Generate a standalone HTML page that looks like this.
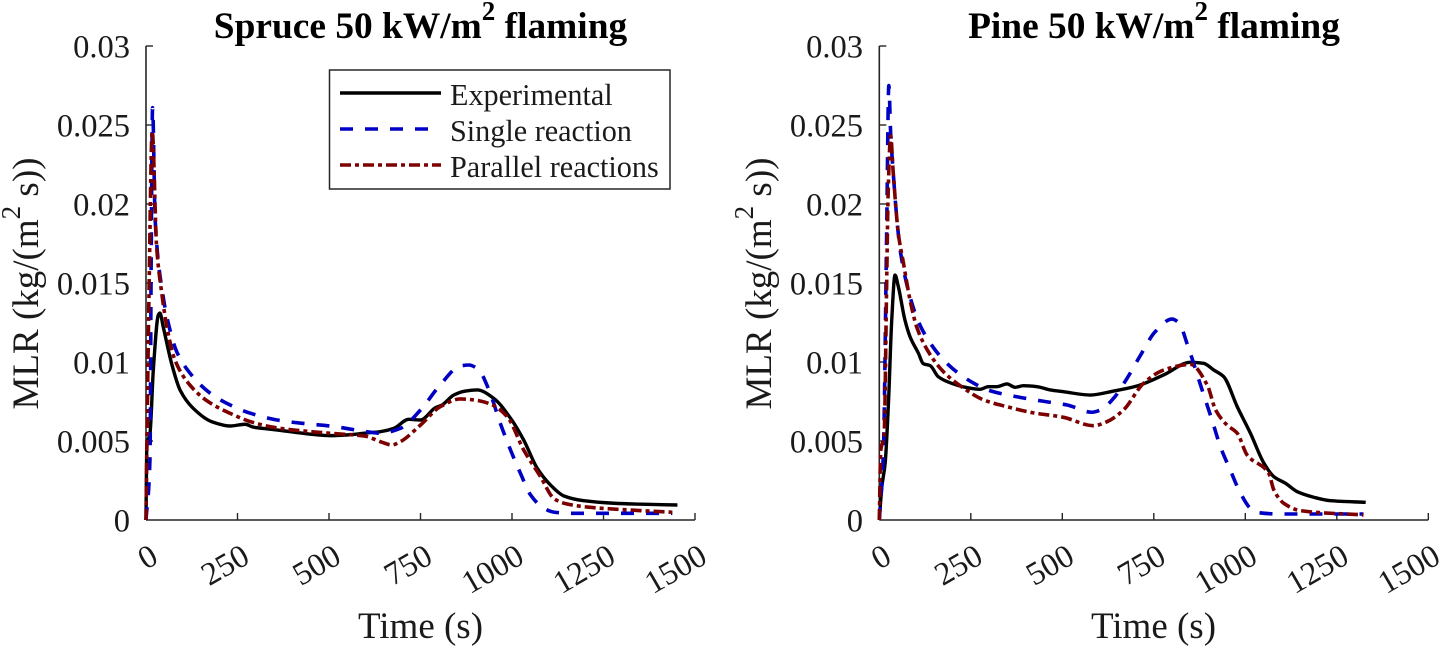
<!DOCTYPE html>
<html lang="en">
<head>
<meta charset="utf-8">
<title>MLR charts</title>
<style>
html,body{margin:0;padding:0;background:#fff;width:1439px;height:646px;overflow:hidden}
svg{display:block;font-family:"Liberation Serif",serif}
</style>
</head>
<body>
<svg id="chart" width="1439" height="646" viewBox="0 0 1439 646" xmlns="http://www.w3.org/2000/svg"></svg>
<script>
const xTicks = [0, 250, 500, 750, 1000, 1250, 1500];
const yTicks = [0, 0.005, 0.01, 0.015, 0.02, 0.025, 0.03];
const yTickLabels = ['0', '0.005', '0.01', '0.015', '0.02', '0.025', '0.03'];

const spruceExpT = [0,2,11,20,34,38,47,70,93,129,180,230,271,293,339,394,503,560,600,640,677,718,750,791,809,841,873,905,950,996,1032,1069,1105,1142,1196,1279,1370,1452];
const spruceExpV = [0,.00464,.0055,.0095,.0130,.0131,.01223,.0099,.00823,.00707,.00622,.00595,.00606,.00588,.00575,.00559,.00534,.0054,.0055,.00559,.0058,.00637,.00633,.00711,.00728,.00791,.00816,.00823,.0077,.00644,.00506,.00327,.00222,.00152,.00122,.00106,.00099,.00095];
const spruceSingleT = [0,11,14,18,25,47,61,84,120,175,230,285,358,430,503,600,640,695,750,800,859,882,909,937,968,996,1023,1051,1087,1114,1160,1279,1438];
const spruceSingleV = [0,.004,.016,.0261,.019,.01413,.01245,.01065,.0093,.00803,.00728,.00676,.00633,.00611,.00595,.0056,.00549,.0058,.00696,.00844,.00975,.00981,.0095,.00823,.00612,.00443,.00296,.00158,.00074,.0005,.00042,.00042,.00042];
const spruceParallelT = [0,2,8,17,29,43,57,79,120,170,230,294,367,503,600,640,672,695,750,804,859,896,941,987,1032,1078,1114,1142,1224,1324,1438];
const spruceParallelV = [0,.0038,.014,.0246,.0173,.01436,.01223,.01013,.00854,.00749,.00675,.00616,.0058,.00549,.0053,.00496,.00475,.00496,.00601,.00717,.00766,.0076,.00734,.00654,.00443,.00274,.00137,.00106,.00078,.00063,.00049];

const pineExpT = [0,7,16,25,34,43,52,70,84,107,120,139,161,193,239,275,298,321,349,371,394,431,467,503,576,640,704,777,850,886,914,941,978,1014,1051,1078,1110,1142,1187,1233,1329];
const pineExpV = [0,.0021,.0036,.0074,.01266,.0155,.01477,.01266,.0116,.01055,.0099,.00977,.00907,.00869,.00838,.00827,.00844,.00844,.00861,.0084,.0085,.00844,.00823,.00812,.00791,.00816,.00848,.00918,.00998,.00992,.00949,.00907,.00717,.00549,.00359,.00274,.00232,.00179,.00144,.00122,.00112];
const pineSingleT = [0,11,20,26,31,38,49,57,84,107,139,184,239,303,376,444,513,581,604,640,677,714,754,800,818,845,882,909,932,959,987,1014,1037,1096,1323];
const pineSingleV = [0,.0042,.018,.0275,.0245,.022,.0188,.0171,.01413,.01255,.0112,.00993,.00892,.00818,.0078,.00753,.00728,.00682,.00696,.0077,.00897,.01044,.01192,.01272,.01249,.01087,.00823,.00633,.00464,.00316,.00169,.00074,.00046,.00038,.00038];
const pineParallelT = [0,4,13,20,24,31,38,52,66,84,102,134,175,230,285,349,412,503,585,622,667,722,777,850,896,919,950,978,1005,1064,1078,1105,1151,1323];
const pineParallelV = [0,.0044,.0053,.01477,.0205,.0243,.022,.01814,.01626,.01392,.01223,.01065,.00939,.00835,.0076,.00717,.00682,.0065,.00597,.00622,.00696,.00865,.00949,.00985,.00854,.00696,.00601,.00549,.00411,.00296,.0019,.00106,.00059,.00032];

const svg = document.getElementById('chart');
const NS = 'http://www.w3.org/2000/svg';
const AXIS_COLOR = '#262626';
const TEXT_COLOR = '#1a1a1a';
const SERIES_STYLE = {
  experimental: {stroke: '#000000', width: 3.4, dash: ''},
  single: {stroke: '#0000c4', width: 3.6, dash: '13 12'},
  parallel: {stroke: '#7c0000', width: 3.6, dash: '11 4 4 4'}
};

function make(tag, attrs, parent) {
  const el = document.createElementNS(NS, tag);
  for (const k in attrs) el.setAttribute(k, attrs[k]);
  (parent || svg).appendChild(el);
  return el;
}
function yScale(v) { return 520 - v / 0.03 * 474; }
function xScaleFor(x0) { return function (t) { return x0 + t / 1500 * 549; }; }

/* Monotone cubic path through the scaled data points (no overshoot at peaks). */
function smoothPath(px, py) {
  const n = px.length;
  const d = [], m = new Array(n);
  for (let i = 0; i < n - 1; i++) d.push((py[i + 1] - py[i]) / (px[i + 1] - px[i]));
  m[0] = d[0];
  m[n - 1] = d[n - 2];
  for (let i = 1; i < n - 1; i++) {
    if (d[i - 1] * d[i] <= 0) {
      m[i] = 0;
    } else {
      const h0 = px[i] - px[i - 1], h1 = px[i + 1] - px[i];
      const w1 = 2 * h1 + h0, w2 = h1 + 2 * h0;
      m[i] = (w1 + w2) / (w1 / d[i - 1] + w2 / d[i]);
    }
  }
  let path = 'M' + px[0].toFixed(2) + ' ' + py[0].toFixed(2);
  for (let i = 0; i < n - 1; i++) {
    const h = (px[i + 1] - px[i]) / 3;
    path += 'C' + (px[i] + h).toFixed(2) + ' ' + (py[i] + m[i] * h).toFixed(2) + ' ' +
      (px[i + 1] - h).toFixed(2) + ' ' + (py[i + 1] - m[i + 1] * h).toFixed(2) + ' ' +
      px[i + 1].toFixed(2) + ' ' + py[i + 1].toFixed(2);
  }
  return path;
}

function drawSeries(group, xs, ts, vs, style) {
  const attrs = {d: smoothPath(ts.map(xs), vs.map(yScale)), fill: 'none', stroke: style.stroke, 'stroke-width': style.width, 'stroke-linejoin': 'round'};
  if (style.dash) attrs['stroke-dasharray'] = style.dash;
  return make('path', attrs, group);
}

function drawPanel(name, x0, titleText, titleX, labelX, yLabelX, tickLabelRight, data) {
  const xs = xScaleFor(x0);
  const g = make('g', {});
  
  

  const axisX = make('line', {x1: x0, y1: 520, x2: x0 + 549, y2: 520, stroke: AXIS_COLOR, 'stroke-width': 1.6}, g);
  
  
  const axisY = make('line', {x1: x0, y1: 520, x2: x0, y2: 46, stroke: AXIS_COLOR, 'stroke-width': 1.6}, g);
  
  

  xTicks.forEach(function (t) {
    const px = xs(t);
    if (t > 0) {
      const tick = make('line', {x1: px, y1: 520, x2: px, y2: 513, stroke: AXIS_COLOR, 'stroke-width': 1.4}, g);
      
      
    }
    const lx = px + 14, ly = 562;
    const lab = make('text', {x: lx, y: ly, 'text-anchor': 'end', 'font-size': 32.5, fill: TEXT_COLOR, transform: 'rotate(-30 ' + lx + ' ' + ly + ')'}, g);
    
    
    lab.textContent = String(t);
  });
  yTicks.forEach(function (v, i) {
    const py = yScale(v);
    if (v > 0) {
      const tick = make('line', {x1: x0, y1: py, x2: x0 + 7, y2: py, stroke: AXIS_COLOR, 'stroke-width': 1.4}, g);
      
      
    }
    const lab = make('text', {x: tickLabelRight, y: py + 11.5, 'text-anchor': 'end', 'font-size': 32.5, fill: TEXT_COLOR}, g);
    
    
    lab.textContent = yTickLabels[i];
  });

  const title = make('text', {x: titleX, y: 38, 'text-anchor': 'middle', 'font-size': 37.4, 'font-weight': 'bold', fill: '#000'}, g);
  
  
  title.appendChild(document.createTextNode(titleText + ' 50 kW/m'));
  make('tspan', {dy: -18, 'font-size': 27}, title).textContent = '2';
  make('tspan', {dy: 18}, title).textContent = ' flaming';

  const xLabel = make('text', {x: labelX, y: 638, 'text-anchor': 'middle', 'font-size': 37, fill: TEXT_COLOR}, g);
  
  
  xLabel.textContent = 'Time (s)';

  const yLabel = make('text', {x: yLabelX, y: 283.5, 'text-anchor': 'middle', 'font-size': 37, fill: TEXT_COLOR, transform: 'rotate(-90 ' + yLabelX + ' 283.5)'}, g);
  
  
  yLabel.appendChild(document.createTextNode('MLR (kg/(m'));
  make('tspan', {dy: -18, 'font-size': 27}, yLabel).textContent = '2';
  make('tspan', {dy: 18}, yLabel).textContent = ' s))';

  const s1 = drawSeries(g, xs, data.expT, data.expV, SERIES_STYLE.experimental);
  
  
  const s2 = drawSeries(g, xs, data.singleT, data.singleV, SERIES_STYLE.single);
  
  
  const s3 = drawSeries(g, xs, data.parallelT, data.parallelV, SERIES_STYLE.parallel);
  
  
}

drawPanel('spruce', 146, 'Spruce', 420.5, 420.5, 38, 130, {
  expT: spruceExpT, expV: spruceExpV,
  singleT: spruceSingleT, singleV: spruceSingleV,
  parallelT: spruceParallelT, parallelV: spruceParallelV
});
drawPanel('pine', 879.3, 'Pine', 1154, 1153.5, 771, 863, {
  expT: pineExpT, expV: pineExpV,
  singleT: pineSingleT, singleV: pineSingleV,
  parallelT: pineParallelT, parallelV: pineParallelV
});

const legend = make('g', {});


const legendBox = make('rect', {x: 329.5, y: 70, width: 340.5, height: 119, fill: '#fff', stroke: AXIS_COLOR, 'stroke-width': 1.5}, legend);



const legendLabels = ['Experimental', 'Single reaction', 'Parallel reactions'];
const legendKeys = ['experimental', 'single', 'parallel'];
legendLabels.forEach(function (label, i) {
  const st = SERIES_STYLE[legendKeys[i]];
  const baseline = 105 + i * 36;
  const attrs = {x1: 340, y1: baseline - 12, x2: i === 1 ? 431 : 441, y2: baseline - 12, stroke: st.stroke, 'stroke-width': st.width};
  if (st.dash) attrs['stroke-dasharray'] = st.dash;
  const key = make('line', attrs, legend);
  
  
  const txt = make('text', {x: 450, y: baseline, 'font-size': 30.2, fill: TEXT_COLOR}, legend);
  
  
  txt.textContent = label;
});
</script>
</body>
</html>
